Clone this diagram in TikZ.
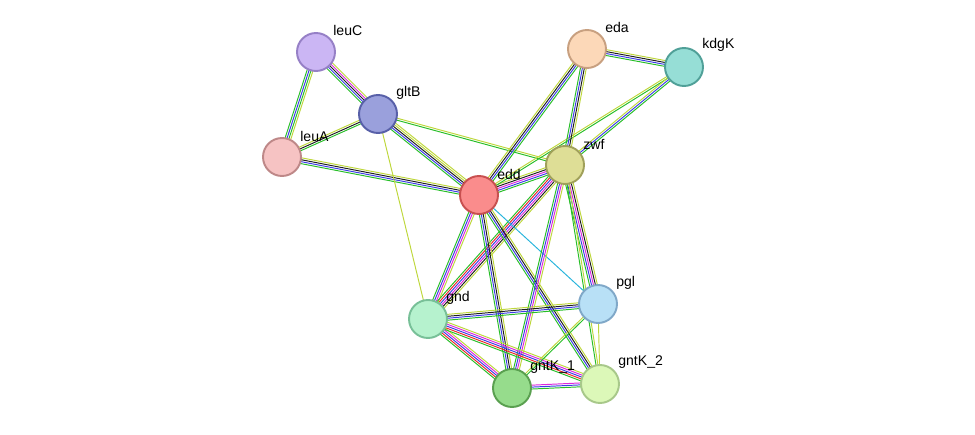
\documentclass[tikz,border=0pt]{standalone}
\usepackage{fontspec}
\setmainfont{Liberation Sans}
\usetikzlibrary{calc,backgrounds}
\definecolor{cNb}{RGB}{40,190,40}
\definecolor{cCo}{RGB}{60,60,230}
\definecolor{cTm}{RGB}{190,215,60}
\definecolor{cEx}{RGB}{220,40,220}
\definecolor{cFu}{RGB}{235,40,40}
\definecolor{cDb}{RGB}{40,180,220}
\definecolor{cCe}{RGB}{30,30,30}
\tikzset{
  prot/.style={circle,minimum size=0.76cm,inner sep=0pt,line width=1.1pt},
  lbl/.style={anchor=west,inner sep=0pt,font=\fontsize{8}{9}\selectfont},
}
% #1,#2 nodes, #3 colour list, #4 centre index
\newcommand\link[4]{%
  \foreach \c [count=\i] in {#3} {%
    \draw[\c,line width=0.55pt] ($(#1)!{(\i-#4)*1.1pt}!90:(#2)$) -- ($(#2)!{(\i-#4)*1.1pt}!-90:(#1)$);
  }}
\begin{document}
\begin{tikzpicture}
\useasboundingbox (0,0) rectangle (19.5,8.68);
\node[prot,fill={rgb,255:red,203;green,182;blue,244},draw={rgb,255:red,150;green,128;blue,198}] (leuC) at (6.32,7.64) {};
\node[prot,fill={rgb,255:red,154;green,160;blue,220},draw={rgb,255:red,88;green,96;blue,168}] (gltB) at (7.56,6.40) {};
\node[prot,fill={rgb,255:red,246;green,195;blue,195},draw={rgb,255:red,190;green,136;blue,136}] (leuA) at (5.64,5.54) {};
\node[prot,fill={rgb,255:red,250;green,140;blue,140},draw={rgb,255:red,200;green,80;blue,80}] (edd) at (9.58,4.78) {};
\node[prot,fill={rgb,255:red,252;green,216;blue,184},draw={rgb,255:red,200;green,160;blue,128}] (eda) at (11.74,7.70) {};
\node[prot,fill={rgb,255:red,150;green,222;blue,214},draw={rgb,255:red,80;green,160;blue,152}] (kdgK) at (13.68,7.34) {};
\node[prot,fill={rgb,255:red,222;green,222;blue,150},draw={rgb,255:red,160;green,160;blue,90}] (zwf) at (11.30,5.38) {};
\node[prot,fill={rgb,255:red,184;green,224;blue,246},draw={rgb,255:red,128;green,168;blue,200}] (pgl) at (11.96,2.60) {};
\node[prot,fill={rgb,255:red,182;green,242;blue,206},draw={rgb,255:red,120;green,192;blue,152}] (gnd) at (8.56,2.30) {};
\node[prot,fill={rgb,255:red,150;green,220;blue,140},draw={rgb,255:red,90;green,160;blue,80}] (gntKa) at (10.24,0.92) {};
\node[prot,fill={rgb,255:red,220;green,248;blue,184},draw={rgb,255:red,168;green,200;blue,138}] (gntKb) at (12.00,1.00) {};

\begin{scope}[on background layer]
\link{leuC}{gltB}{cNb,cCo,cCe,cEx,cTm}{3}
\link{leuC}{leuA}{cNb,cCo,cNb,cTm}{2.5}
\link{leuA}{gltB}{cNb,cCe,cTm}{2}
\link{leuA}{edd}{cNb,cCo,cCe,cTm}{2.5}
\link{gltB}{edd}{cNb,cCo,cCe,cTm,cTm}{3}
\link{gltB}{zwf}{cNb,cTm}{1.5}
\link{gltB}{gnd}{cTm}{1}
\link{edd}{eda}{cNb,cCo,cCe,cTm}{2.5}
\link{edd}{zwf}{cNb,cCo,cEx,cCe,cTm}{3}
\link{edd}{kdgK}{cNb,cTm}{1.5}
\link{eda}{kdgK}{cNb,cCo,cCe,cTm}{2.5}
\link{eda}{zwf}{cNb,cCo,cCe,cTm}{2.5}
\link{zwf}{kdgK}{cNb,cCo,cTm}{2}
\link{edd}{gnd}{cNb,cCo,cEx,cTm}{2.5}
\link{zwf}{gnd}{cNb,cFu,cCo,cEx,cCe,cTm}{3.5}
\link{edd}{gntKa}{cNb,cCo,cCe,cTm}{2.5}
\link{edd}{gntKb}{cNb,cCo,cCe,cTm}{2.5}
\link{edd}{pgl}{cDb}{1}
\link{zwf}{pgl}{cNb,cCo,cEx,cCe,cTm}{3}
\link{zwf}{gntKa}{cNb,cCo,cEx,cTm}{2.5}
\link{zwf}{gntKb}{cNb,cTm}{1.5}
\link{gnd}{pgl}{cNb,cCo,cCe,cTm}{2.5}
\link{gnd}{gntKa}{cNb,cFu,cCo,cEx,cTm}{3}
\link{gnd}{gntKb}{cNb,cFu,cCo,cEx,cTm}{3}
\link{gntKa}{gntKb}{cNb,cCo,cEx}{2}
\link{pgl}{gntKa}{cTm,cNb}{1.5}
\link{pgl}{gntKb}{cTm}{1}
\end{scope}

\node[lbl] (tleuC) at (6.66,8.08) {leuC};
\node[lbl] (tgltB) at (7.92,6.82) {gltB};
\node[lbl] (tleuA) at (6.00,5.96) {leuA};
\node[lbl] (tedd) at (9.94,5.20) {edd};
\node[lbl] (teda) at (12.10,8.14) {eda};
\node[lbl] (tkdgK) at (14.04,7.78) {kdgK};
\node[lbl] (tzwf) at (11.66,5.80) {zwf};
\node[lbl] (tpgl) at (12.32,3.02) {pgl};
\node[lbl] (tgnd) at (8.92,2.72) {gnd};
\node[lbl] (tgntKa) at (10.60,1.34) {gntK\_1};
\node[lbl] (tgntKb) at (12.36,1.44) {gntK\_2};
\end{tikzpicture}
\end{document}
